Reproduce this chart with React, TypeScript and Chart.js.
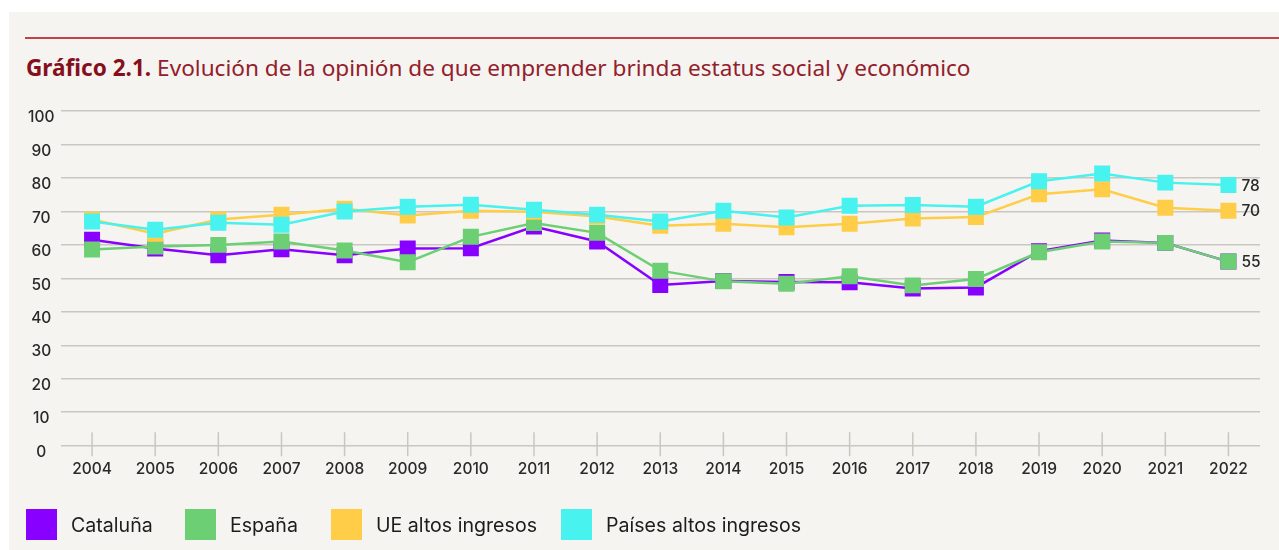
import React, { useEffect, useRef } from "react";
import { Chart, registerables } from "chart.js";

Chart.register(...registerables);

const years = ["2004", "2005", "2006", "2007", "2008", "2009", "2010", "2011", "2012", "2013", "2014", "2015", "2016", "2017", "2018", "2019", "2020", "2021", "2022"];
const cataluna = [61.5, 58.9, 56.9, 58.7, 56.9, 58.9, 59.0, 65.5, 61.0, 48.0, 49.2, 48.9, 48.8, 47.0, 47.3, 58.1, 61.3, 60.6, 55.0];
const espana = [58.6, 59.5, 60.0, 61.0, 58.3, 54.8, 62.4, 66.5, 63.6, 52.3, 49.1, 48.4, 50.6, 47.9, 49.8, 57.8, 61.0, 60.6, 55.0];
const ueAltos = [67.6, 63.3, 67.6, 69.0, 70.8, 68.8, 70.2, 69.9, 68.5, 65.7, 66.3, 65.3, 66.3, 67.9, 68.3, 75.1, 76.6, 71.1, 70.2];
const paisesAltos = [67.0, 64.5, 66.6, 66.0, 70.0, 71.4, 72.0, 70.5, 69.0, 67.0, 70.2, 68.2, 71.7, 71.9, 71.4, 79.0, 81.3, 78.6, 77.9];

const seriesNames = ["Cataluña", "España", "UE altos ingresos", "Países altos ingresos"];
const seriesColors = ["#8800ff", "#6dcf74", "#ffcd48", "#48f2ef"];
const seriesData = [cataluna, espana, ueAltos, paisesAltos];
const endLabelSeries = [1, 2, 3];

const yMin = 0;
const yMax = 100;
const yStep = 10;

const GRID = "#c9c7c0";
const TEXT = "#2a2a2a";
const AXIS_FONT = "Inter, 'Noto Sans', sans-serif";
const legendLefts = [26, 185, 331, 561];

export default function App() {
  const ref = useRef<HTMLCanvasElement>(null);

  useEffect(() => {
    const canvas = ref.current;
    if (!canvas) return;

    const tickMarks = {
      id: "tickMarks",
      beforeDatasetsDraw(chart: any) {
        const { ctx, scales } = chart;
        const x = scales.x;
        const y = scales.y;
        const y0 = y.getPixelForValue(yMin);
        ctx.save();
        ctx.strokeStyle = GRID;
        ctx.lineWidth = 1.5;
        x.ticks.forEach((_: any, i: number) => {
          const px = x.getPixelForTick(i);
          ctx.beginPath();
          ctx.moveTo(px, y0 - 13.5);
          ctx.lineTo(px, y0 + 10.5);
          ctx.stroke();
        });
        ctx.restore();
      },
    };

    const endLabels = {
      id: "endLabels",
      afterDatasetsDraw(chart: any) {
        const { ctx } = chart;
        ctx.save();
        ctx.font = `500 15.5px ${AXIS_FONT}`;
        ctx.fillStyle = TEXT;
        ctx.textAlign = "left";
        ctx.textBaseline = "middle";
        endLabelSeries.forEach((si) => {
          const meta = chart.getDatasetMeta(si);
          const last = meta.data[meta.data.length - 1];
          const vals = seriesData[si];
          const v = vals[vals.length - 1];
          ctx.fillText(String(Math.round(v)), last.x + 13, last.y + 1);
        });
        ctx.restore();
      },
    };

    const chart = new Chart(canvas, {
      type: "line",
      data: {
        labels: years,
        datasets: seriesData.map((d, i) => ({
          label: seriesNames[i],
          data: d,
          borderColor: seriesColors[i],
          backgroundColor: seriesColors[i],
          pointBackgroundColor: seriesColors[i],
          pointBorderColor: seriesColors[i],
          pointBorderWidth: 0,
          pointStyle: "rect",
          pointRadius: 11.3,
          pointHoverRadius: 11.3,
          borderWidth: 2.5,
          tension: 0,
          order: seriesData.length - i,
        })),
      },
      options: {
        responsive: false,
        animation: false,
        layout: { padding: { top: 111, right: 19, bottom: 57.7, left: 0 } },
        plugins: {
          legend: { display: false },
          tooltip: { enabled: false },
          title: { display: false },
        },
        scales: {
          x: {
            type: "category",
            offset: true,
            grid: { display: false, drawTicks: false },
            border: { display: false },
            ticks: {
              padding: 14,
              autoSkip: false,
              maxRotation: 0,
              color: TEXT,
              font: { family: AXIS_FONT, size: 15.5, weight: 500 },
            },
          },
          y: {
            min: yMin,
            max: yMax,
            grid: { color: GRID, lineWidth: 1.5, drawTicks: false },
            border: { display: false },
            ticks: {
              stepSize: yStep,
              crossAlign: "center",
              padding: 6,
              labelOffset: 6.5,
              color: TEXT,
              font: { family: AXIS_FONT, size: 15.5, weight: 500 },
            },
            afterFit(scale: any) {
              scale.width = 60.5;
            },
          },
        },
      },
      plugins: [tickMarks, endLabels],
    } as any);

    return () => chart.destroy();
  }, []);

  return (
    <div style={{ position: "absolute", left: 0, top: 0, width: 1279, height: 550, background: "#ffffff", overflow: "hidden" }}>
      <div style={{ position: "absolute", left: 9, top: 12, width: 1270, height: 538, background: "#f5f4f1" }} />
      <div style={{ position: "absolute", left: 25, top: 37, width: 1254, height: 2, background: "#c0434c" }} />
      <div
        style={{
          position: "absolute",
          left: 26,
          top: 57,
          fontFamily: "'Noto Sans', sans-serif",
          fontSize: 22.6,
          lineHeight: "22px",
          color: "#93202a",
          whiteSpace: "nowrap",
        }}
      >
        <span style={{ fontWeight: 700, color: "#870f1c" }}>Gráfico 2.1.</span> Evolución de la opinión de que emprender brinda estatus social y económico
      </div>
      <canvas ref={ref} width={1279} height={550} style={{ position: "absolute", left: 0, top: 0, width: 1279, height: 550 }} />
      {seriesNames.map((name, i) => (
        <div
          key={name}
          style={{ position: "absolute", left: legendLefts[i], top: 509, height: 31, display: "flex", alignItems: "center" }}
        >
          <div style={{ width: 31, height: 31, background: seriesColors[i] }} />
          <span
            style={{
              marginLeft: 14,
              fontFamily: "Inter, 'Noto Sans', sans-serif",
              fontSize: 19.6,
              color: "#1c1c1c",
              whiteSpace: "nowrap",
            }}
          >
            {name}
          </span>
        </div>
      ))}
    </div>
  );
}
